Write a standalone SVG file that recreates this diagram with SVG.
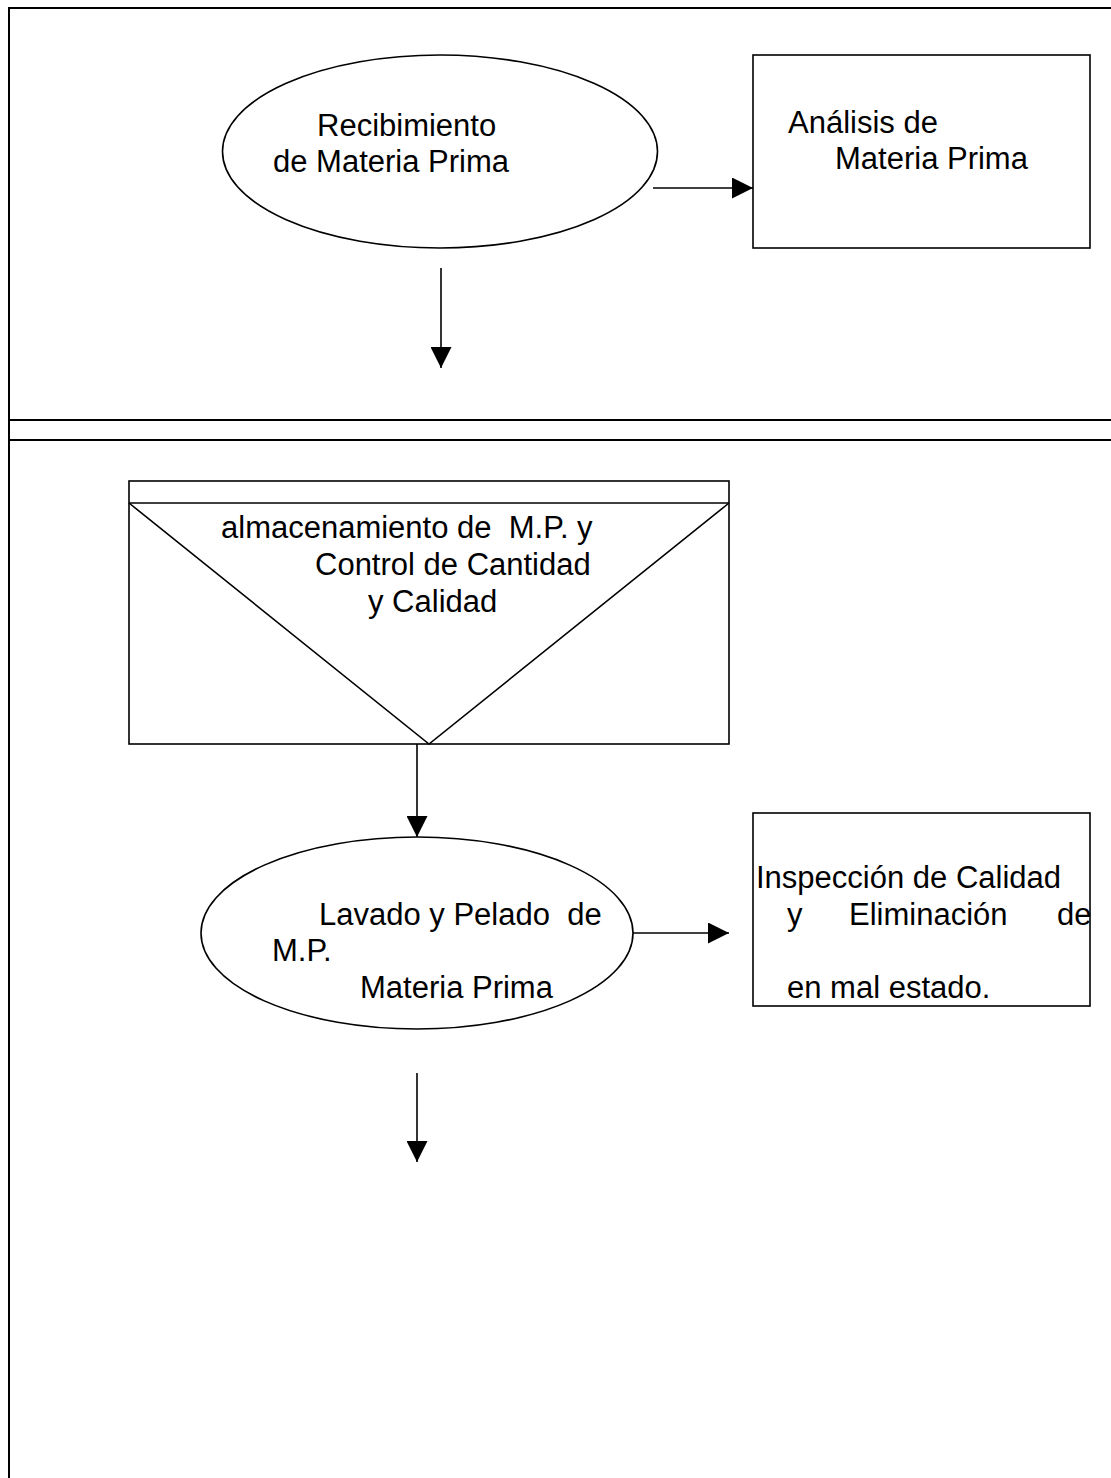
<svg xmlns="http://www.w3.org/2000/svg" width="1111" height="1478" viewBox="0 0 1111 1478">
  <style>
    .frame { fill: none; stroke: #000; stroke-width: 2; }
    .shape { fill: none; stroke: #000; stroke-width: 1.6; }
    .conn { fill: none; stroke: #000; stroke-width: 1.6; }
    .label { font-family: "Liberation Sans", Arial, sans-serif; font-size: 31px; fill: #000; }
  </style>
  <defs>
    <marker id="arrow" markerUnits="userSpaceOnUse" markerWidth="21" markerHeight="21" viewBox="0 0 20 20" refX="20" refY="10" orient="auto">
      <path d="M0,0 L20,10 L0,20 Z" fill="#000"/>
    </marker>
  </defs>
  <rect width="1111" height="1478" fill="#fff"/>

  <!-- page frame and lane separators -->
  <g id="frame">
    <polyline class="frame" points="1111,8 9,8 9,1478"/>
    <line class="frame" x1="9" y1="420" x2="1111" y2="420"/>
    <line class="frame" x1="9" y1="440" x2="1111" y2="440"/>
  </g>

  <g id="recibimiento">
    <ellipse class="shape" cx="440" cy="151.5" rx="217.5" ry="96.5"/>
    <text class="label" x="317" y="136">Recibimiento</text>
    <text class="label" x="273" y="172">de Materia Prima</text>
  </g>

  <g id="analisis">
    <rect class="shape" x="753" y="55" width="337" height="193"/>
    <text class="label" x="788" y="133">Análisis de</text>
    <text class="label" x="835" y="169">Materia Prima</text>
  </g>

  <g id="almacenamiento">
    <rect class="shape" x="129" y="481" width="600" height="263"/>
    <line class="shape" x1="129" y1="503" x2="729" y2="503"/>
    <polyline class="shape" points="129,503 429,744 729,503"/>
    <text class="label" x="221" y="538" xml:space="preserve">almacenamiento de  M.P. y</text>
    <text class="label" x="315" y="575">Control de Cantidad</text>
    <text class="label" x="368" y="612">y Calidad</text>
  </g>

  <g id="lavado">
    <ellipse class="shape" cx="417" cy="933" rx="216" ry="96"/>
    <text class="label" x="319" y="925" xml:space="preserve">Lavado y Pelado  de</text>
    <text class="label" x="272" y="961">M.P.</text>
    <text class="label" x="360" y="998">Materia Prima</text>
  </g>

  <g id="inspeccion">
    <rect class="shape" x="753" y="813" width="337" height="193"/>
    <text class="label" x="756" y="888">Inspección de Calidad</text>
    <text class="label" x="787" y="925">y</text>
    <text class="label" x="849" y="925">Eliminación</text>
    <text class="label" x="1057" y="925">de</text>
    <text class="label" x="787" y="998">en mal estado.</text>
  </g>

  <g id="connectors">
    <line class="conn" x1="653" y1="188" x2="753" y2="188" marker-end="url(#arrow)"/>
    <line class="conn" x1="441" y1="268" x2="441" y2="368" marker-end="url(#arrow)"/>
    <line class="conn" x1="417" y1="744" x2="417" y2="837" marker-end="url(#arrow)"/>
    <line class="conn" x1="633" y1="933" x2="729" y2="933" marker-end="url(#arrow)"/>
    <line class="conn" x1="417" y1="1073" x2="417" y2="1162" marker-end="url(#arrow)"/>
  </g>
</svg>
